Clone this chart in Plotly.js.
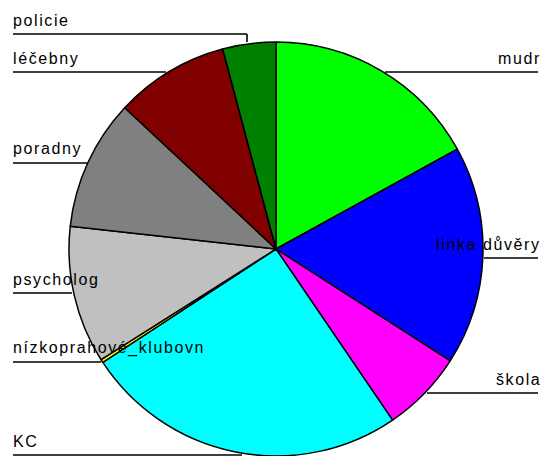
<!DOCTYPE html>
<html>
<head>
<meta charset="utf-8">
<script src="https://cdn.plot.ly/plotly-3.0.1.min.js"></script>
<style>
  html, body { margin: 0; padding: 0; background: #fff; }
  #chart { width: 547px; height: 456px; }
  /* the old chart spaces its letters out */
  .annotation-text { letter-spacing: 1.6px; }
</style>
</head>
<body>
<div id="chart"></div>
<script>
// Categories, clockwise from 12 o'clock
const categories = ['mudr', 'linka důvěry', 'škola', 'KC', 'nízkoprahové_klubovn',
                    'psycholog', 'poradny', 'léčebny', 'policie'];
// Shares (%)
const shares = [17.0, 17.1, 6.4, 25.3, 0.25, 10.75, 10.2, 8.9, 4.15];
const sliceColors = ['#00ff00', '#0000ff', '#ff00ff', '#00ffff', '#ffff00',
                     '#c0c0c0', '#808080', '#800000', '#008000'];

const W = 547, H = 456;
const px = x => x / W;
const py = y => 1 - y / H;

// label placement: [text, side, line y, line inner end x]
const labelSpots = [
  ['policie', 'left', 34, 247],
  ['léčebny', 'left', 72, 166],
  ['poradny', 'left', 163, 87],
  ['psycholog', 'left', 293, 72],
  ['nízkoprahové_klubovn', 'left', 362, 101],
  ['KC', 'left', 455, 242],
  ['mudr', 'right', 72, 385],
  ['linka důvěry', 'right', 258, 484],
  ['škola', 'right', 393, 427]
];

const annotations = [];
const shapes = [];
labelSpots.forEach(([txt, side, ly, edge]) => {
  const left = side === 'left';
  annotations.push({
    text: txt, xref: 'paper', yref: 'paper', showarrow: false,
    x: px(left ? 11 : 543), y: py(ly - 14),
    xanchor: left ? 'left' : 'right', yanchor: 'middle',
    font: { family: 'Liberation Sans, Arial, sans-serif', size: 16, color: '#000' }
  });
  shapes.push({
    type: 'line', xref: 'paper', yref: 'paper',
    x0: px(left ? 13 : edge), x1: px(left ? edge : 538), y0: py(ly), y1: py(ly),
    line: { color: '#000', width: 1.6 }
  });
});
// policie leader drops down to the rim
shapes.push({
  type: 'line', xref: 'paper', yref: 'paper',
  x0: px(247), x1: px(247), y0: py(34), y1: py(42),
  line: { color: '#000', width: 1.6 }
});

const trace = {
  type: 'pie',
  labels: categories,
  values: shares,
  sort: false,
  direction: 'clockwise',
  rotation: 0,
  textinfo: 'none',
  hoverinfo: 'none',
  marker: { colors: sliceColors, line: { color: '#000', width: 1.5 } },
  domain: { x: [px(68), px(484)], y: [0, 414 / H] }
};

const layout = {
  width: W, height: H,
  margin: { l: 0, r: 0, t: 0, b: 0 },
  showlegend: false,
  paper_bgcolor: '#fff',
  annotations: annotations,
  shapes: shapes
};

Plotly.newPlot('chart', [trace], layout, { displayModeBar: false, staticPlot: true });
</script>
</body>
</html>
